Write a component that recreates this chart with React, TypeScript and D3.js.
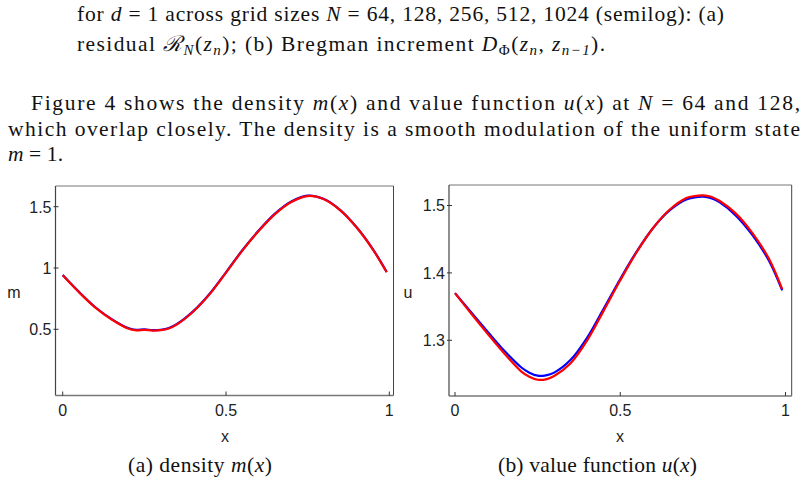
import React from "react";
import * as d3 from "d3";

// ---- data ----
const xsM = [0, 0.05, 0.1, 0.15, 0.2, 0.225, 0.25, 0.275, 0.3, 0.325, 0.35, 0.4, 0.45, 0.5, 0.55, 0.6, 0.65, 0.7, 0.75, 0.8, 0.85, 0.9, 0.95, 0.992];
const m64 = [0.943, 0.805, 0.68, 0.583, 0.51, 0.495, 0.5, 0.493, 0.496, 0.51, 0.543, 0.648, 0.79, 0.965, 1.145, 1.305, 1.443, 1.542, 1.59, 1.562, 1.472, 1.332, 1.152, 0.968];
const m128 = [0.94, 0.802, 0.677, 0.58, 0.507, 0.492, 0.496, 0.49, 0.493, 0.507, 0.54, 0.645, 0.787, 0.962, 1.142, 1.302, 1.44, 1.539, 1.587, 1.56, 1.47, 1.33, 1.15, 0.965];

const xsU = [0, 0.05, 0.1, 0.15, 0.2, 0.225, 0.25, 0.275, 0.3, 0.35, 0.4, 0.45, 0.5, 0.55, 0.6, 0.65, 0.7, 0.725, 0.75, 0.775, 0.8, 0.85, 0.9, 0.95, 0.99];
const u64 = [1.37, 1.341, 1.312, 1.284, 1.26, 1.252, 1.2475, 1.248, 1.252, 1.271, 1.304, 1.347, 1.391, 1.432, 1.467, 1.493, 1.509, 1.512, 1.513, 1.511, 1.505, 1.485, 1.456, 1.418, 1.374];
const u128 = [1.37, 1.339, 1.309, 1.28, 1.254, 1.246, 1.2415, 1.242, 1.247, 1.266, 1.3, 1.344, 1.389, 1.431, 1.467, 1.494, 1.511, 1.514, 1.515, 1.513, 1.507, 1.488, 1.459, 1.421, 1.376];

const xTicks = [0, 0.5, 1];
const xTickLabels = ["0", "0.5", "1"];
const mTicks = [0.5, 1, 1.5];
const mTickLabels = ["0.5", "1", "1.5"];
const uTicks = [1.3, 1.4, 1.5];
const uTickLabels = ["1.3", "1.4", "1.5"];

const SANS = "'Liberation Sans', Arial, sans-serif";
const SERIF = "'Liberation Serif', 'Times New Roman', serif";
const FS = 21.5;

type PanelProps = {
  fx0: number; fx1: number; fy0: number; fy1: number;
  xr: [number, number];
  yd: [number, number]; yr: [number, number];
  yTicks: number[]; yLabels: string[];
  xs: number[]; blue: number[]; red: number[];
  yName: string; yNameX: number; xNameX: number;
  caption: React.ReactNode;
};

function Panel(p: PanelProps) {
  const x = d3.scaleLinear().domain([0, 1]).range(p.xr);
  const y = d3.scaleLinear().domain(p.yd).range(p.yr);
  const line = d3
    .line<number>()
    .x((_, i) => x(p.xs[i]))
    .y((d) => y(d))
    .curve(d3.curveCatmullRom.alpha(0.5));
  return (
    <g>
      <defs>
        <clipPath id={"clip" + p.yName}>
          <rect x={p.fx0} y={p.fy0} width={p.fx1 - p.fx0} height={p.fy1 - p.fy0} />
        </clipPath>
      </defs>
      <line x1={p.fx0} y1={p.fy0} x2={p.fx1} y2={p.fy0} stroke="#777" strokeWidth={1} />
      <line x1={p.fx1} y1={p.fy0} x2={p.fx1} y2={p.fy1} stroke="#444" strokeWidth={1} />
      <line x1={p.fx0} y1={p.fy0} x2={p.fx0} y2={p.fy1} stroke="#444" strokeWidth={1.2} />
      <line x1={p.fx0} y1={p.fy1} x2={p.fx1} y2={p.fy1} stroke="#777" strokeWidth={1.5} />
      {xTicks.map((t, i) => (
        <g key={"xt" + i}>
          <line x1={x(t)} x2={x(t)} y1={p.fy1} y2={p.fy1 - 4} stroke="#333" strokeWidth={1} />
          <text x={x(t)} y={p.fy1 + 20} textAnchor="middle" fontFamily={SANS} fontSize={16} fill="#222">
            {xTickLabels[i]}
          </text>
        </g>
      ))}
      {p.yTicks.map((t, i) => (
        <g key={"yt" + i}>
          <line x1={p.fx0 - 2} x2={p.fx0 + 3} y1={y(t)} y2={y(t)} stroke="#333" strokeWidth={1} />
          <text x={p.fx0 - 4} y={y(t) + 5.8} textAnchor="end" fontFamily={SANS} fontSize={16} fill="#222">
            {p.yLabels[i]}
          </text>
        </g>
      ))}
      <g clipPath={`url(#clip${p.yName})`}>
        <path d={line(p.blue) || ""} fill="none" stroke="#0000ff" strokeWidth={2.2} />
        <path d={line(p.red) || ""} fill="none" stroke="#ff0000" strokeWidth={2.2} />
      </g>
      <text x={p.yNameX} y={298} textAnchor="middle" fontFamily={SANS} fontSize={16} fill="#222">
        {p.yName}
      </text>
      <text x={p.xNameX} y={442} textAnchor="middle" fontFamily={SANS} fontSize={16} fill="#222">
        x
      </text>
      {p.caption}
    </g>
  );
}

const it = { fontStyle: "italic" as const };
const sub = (s: string, italic = true) => (
  <tspan baselineShift="-25%" fontSize={15} fontStyle={italic ? "italic" : "normal"}>{s}</tspan>
);

export default function App() {
  return (
    <svg
      width={806}
      height={504}
      viewBox="0 0 806 504"
      style={{ position: "absolute", left: 0, top: 0, background: "#fff" }}
    >
      <rect x={0} y={0} width={806} height={504} fill="#fff" />
      <g fontFamily={SERIF} fontSize={FS} fill="#111">
        <text x={77} y={21} textLength={647} lengthAdjust="spacing">
          for <tspan {...it}>d</tspan> = 1 across grid sizes <tspan {...it}>N</tspan> = 64, 128, 256, 512, 1024 (semilog):  (a)
        </text>
        <text x={77} y={51} textLength={528} lengthAdjust="spacing">
          residual <tspan {...it}>ℛ</tspan>{sub("N")}<tspan>(</tspan><tspan {...it}>z</tspan>{sub("n")}<tspan>); (b) Bregman increment </tspan><tspan {...it}>D</tspan>{sub("Φ", false)}<tspan>(</tspan><tspan {...it}>z</tspan>{sub("n")}<tspan>, </tspan><tspan {...it}>z</tspan>{sub("n−1")}<tspan>).</tspan>
        </text>
        <text x={31} y={110} textLength={769} lengthAdjust="spacing">
          Figure 4 shows the density <tspan {...it}>m</tspan>(<tspan {...it}>x</tspan>) and value function <tspan {...it}>u</tspan>(<tspan {...it}>x</tspan>) at <tspan {...it}>N</tspan> = 64 and 128,
        </text>
        <text x={8} y={136} textLength={792} lengthAdjust="spacing">
          which overlap closely.  The density is a smooth modulation of the uniform state
        </text>
        <text x={8} y={161} textLength={55} lengthAdjust="spacing">
          <tspan {...it}>m</tspan> = 1.
        </text>
      </g>
      <Panel
        fx0={55.5} fx1={393.5} fy0={186} fy1={395.5}
        xr={[62.7, 389.3]}
        yd={[0.5, 1.5]} yr={[329.3, 206.7]}
        yTicks={mTicks} yLabels={mTickLabels}
        xs={xsM} blue={m64} red={m128}
        yName="m" yNameX={14} xNameX={225}
        caption={
          <text x={128} y={472} fontFamily={SERIF} fontSize={FS} fill="#111" textLength={144} lengthAdjust="spacing">
            (a) density <tspan {...it}>m</tspan>(<tspan {...it}>x</tspan>)
          </text>
        }
      />
      <Panel
        fx0={449} fx1={791.7} fy0={185} fy1={396}
        xr={[455, 785.5]}
        yd={[1.3, 1.5]} yr={[340.3, 205.5]}
        yTicks={uTicks} yLabels={uTickLabels}
        xs={xsU} blue={u64} red={u128}
        yName="u" yNameX={408} xNameX={620}
        caption={
          <text x={498} y={472} fontFamily={SERIF} fontSize={FS} fill="#111" textLength={199} lengthAdjust="spacing">
            (b) value function <tspan {...it}>u</tspan>(<tspan {...it}>x</tspan>)
          </text>
        }
      />
    </svg>
  );
}
